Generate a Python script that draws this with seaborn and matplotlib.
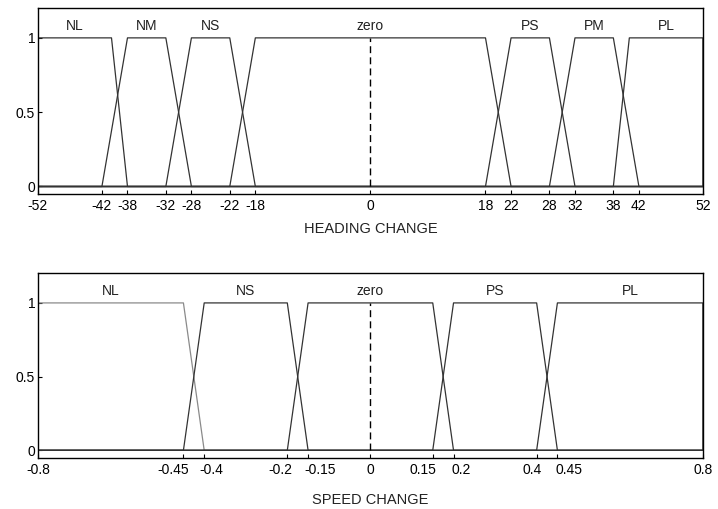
import numpy as np
import pandas as pd
import matplotlib
matplotlib.use("Agg")
import matplotlib.pyplot as plt
import matplotlib.transforms as mtransforms
import seaborn as sns

# ---- data ----
heading_names = ["NL", "NM", "NS", "zero", "PS", "PM", "PL"]
heading_params = [(-52, -52, -40.5, -38), (-42, -38, -32, -28), (-32, -28, -22, -18),
                  (-22, -18, 18, 22), (18, 22, 28, 32), (28, 32, 38, 42), (38, 40.5, 52, 52)]
heading_ticks = [-52, -42, -38, -32, -28, -22, -18, 0, 18, 22, 28, 32, 38, 42, 52]
heading_range = (-52, 52)

speed_names = ["NL", "NS", "zero", "PS", "PL"]
speed_params = [(-0.8, -0.8, -0.45, -0.4), (-0.45, -0.4, -0.2, -0.15), (-0.2, -0.15, 0.15, 0.2),
                (0.15, 0.2, 0.4, 0.45), (0.4, 0.45, 0.8, 0.8)]
speed_ticks = [-0.8, -0.45, -0.4, -0.2, -0.15, 0, 0.15, 0.2, 0.4, 0.45, 0.8]
speed_tick_labels = ["-0.8", "-0.45", "-0.4", "-0.2", "-0.15", "0", "0.15", "0.2", "0.4", "0.45", "0.8"]
speed_range = (-0.8, 0.8)

# horizontal nudges (px) of crowded tick labels, as in the reference
speed_label_shift = [0, -10, 7, -7, 12, 0, -10, 8, -5, 12, 0]

sns.set_theme(style="white")
plt.rcParams['font.family'] = ['Liberation Sans', 'DejaVu Sans']

fig = plt.figure(figsize=(7.18, 5.09), dpi=100)
ax1 = fig.add_axes([0.0529, 0.619, 0.926, 0.365])
ax2 = fig.add_axes([0.0529, 0.1008, 0.926, 0.362])


def draw(ax, names, params, rng, ticks, ticklabels, xlabel, first_color, labelpad):
    rows = []
    for name, (a, b, c, d) in zip(names, params):
        xs = [rng[0], a, b, c, d, rng[1]]
        ys = [0, 0, 1, 1, 0, 0]
        for i, (x, y) in enumerate(zip(xs, ys)):
            rows.append({"mf": name, "order": i, "x": x, "y": y})
    df = pd.DataFrame(rows)
    for k, name in enumerate(names):
        sub = df[df["mf"] == name]
        col = first_color if k == 0 else "#333333"
        sns.lineplot(data=sub, x="x", y="y", ax=ax, sort=False, estimator=None,
                     color=col, lw=0.9)
        a, b, c, d = params[k]
        ax.text((b + c) / 2, 1.08, name, ha="center", va="center", fontsize=10, color="#222")
    ax.plot([0, 0], [0, 1], color="black", lw=1.0, ls=(0, (5, 3)))
    ax.set_xlim(*rng)
    ax.set_ylim(-0.05, 1.2)
    ax.set_xticks(ticks)
    ax.set_xticklabels(ticklabels)
    ax.set_yticks([0, 0.5, 1])
    ax.set_yticklabels(["0", "0.5", "1"])
    ax.tick_params(direction="in", length=3, labelsize=10, colors="black", width=0.8)
    ax.tick_params(axis="y", left=True, pad=2)
    ax.tick_params(axis="x", bottom=True, pad=4)
    for s in ax.spines.values():
        s.set_color("black")
        s.set_linewidth(1.0)
    ax.set_xlabel(xlabel, fontsize=10.5, labelpad=labelpad, color="#222")
    ax.set_ylabel("")
    ax.grid(False)


draw(ax1, heading_names, heading_params, heading_range, heading_ticks,
     [str(t) for t in heading_ticks], "HEADING CHANGE", "#333333", 6)
draw(ax2, speed_names, speed_params, speed_range, speed_ticks,
     speed_tick_labels, "SPEED CHANGE", "#8a8a8a", 11)

for lab, dx in zip(ax2.get_xticklabels(), speed_label_shift):
    lab.set_transform(lab.get_transform() + mtransforms.ScaledTranslation(dx / 100, 0, fig.dpi_scale_trans))

fig.savefig("out.png", dpi=100)
